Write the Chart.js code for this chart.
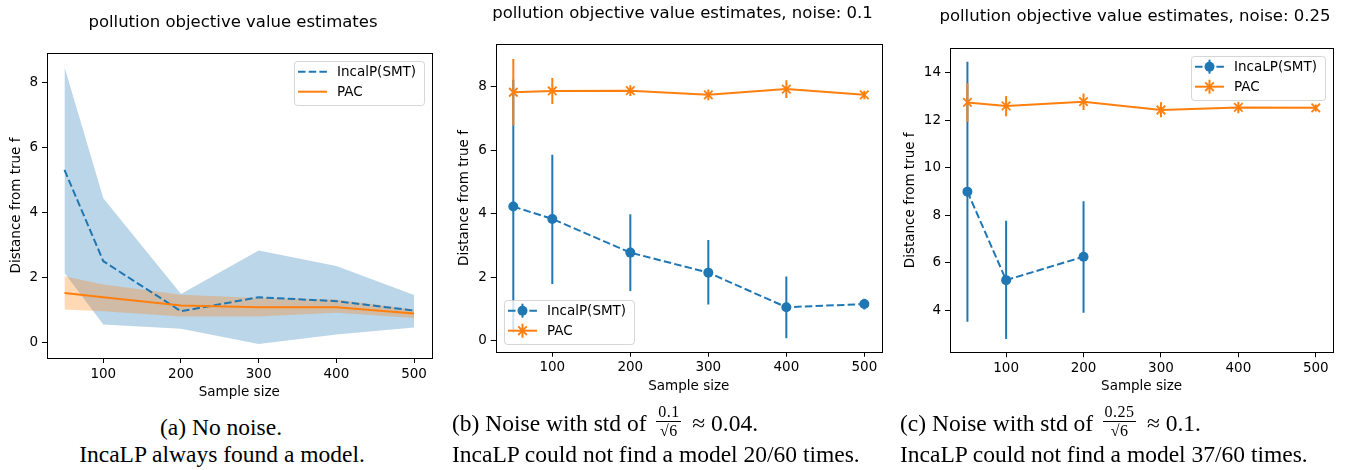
<!DOCTYPE html>
<html>
<head>
<meta charset="utf-8">
<script src="https://cdn.jsdelivr.net/npm/chart.js@4.4.1/dist/chart.umd.min.js"></script>
<style>
  html, body { margin: 0; padding: 0; background: #fff; }
  #page { position: relative; width: 1345px; height: 470px; overflow: hidden; }
  #page canvas { position: absolute; top: 0; }
  .cap { position: absolute; font-family: 'Liberation Serif', 'Times New Roman', serif; font-size: 23.5px; line-height: 1; white-space: nowrap; color: #000; }
  .frac { display: inline-block; position: relative; height: 0; margin: 0 5px 0 4px; }
  .frac .num, .frac .den { position: absolute; left: 0; right: 0; text-align: center; font-size: 16px; line-height: 1; letter-spacing: 0.5px; }
  .frac .num { bottom: 9px; border-bottom: 1px solid #000; padding-bottom: 1px; }
  .frac .den { top: -8px; }
</style>
</head>
<body>
<div id="page">
  <canvas id="chartA" width="466" height="410" style="left:0px"></canvas>
  <canvas id="chartB" width="469" height="410" style="left:448px"></canvas>
  <canvas id="chartC" width="482" height="410" style="left:894px"></canvas>

  <div class="cap" style="left:0px; width:442px; text-align:center; top:416px">(a) No noise.</div>
  <div class="cap" style="left:0px; width:444px; text-align:center; top:443px">IncaLP always found a model.</div>

  <div class="cap" style="left:452px; top:412px">(b) Noise with std of <span class="frac" style="width:25px"><span class="num">0.1</span><span class="den">√6</span></span> ≈ 0.04.</div>
  <div class="cap" style="left:452px; top:443px">IncaLP could not find a model 20/60 times.</div>

  <div class="cap" style="left:900px; top:412px">(c) Noise with std of <span class="frac" style="width:33px"><span class="num">0.25</span><span class="den">√6</span></span> ≈ 0.1.</div>
  <div class="cap" style="left:900px; top:443px">IncaLP could not find a model 37/60 times.</div>
</div>

<script>
// --- Farben (matplotlib default) ---
const C0 = '#1f77b4';
const C1 = '#ff7f0e';
const C0_BAND = 'rgba(31, 119, 180, 0.3)';
const C1_BAND = 'rgba(255, 127, 14, 0.3)';

// --- Daten ---
const sampleSizes = [50, 100, 200, 300, 400, 500];
const xTickValues = [100, 200, 300, 400, 500];
const yTicksAB = [0, 2, 4, 6, 8];
const yTicksC = [4, 6, 8, 10, 12, 14];

// (a) no noise: mean + band
const incaMeanA  = [5.30, 2.49, 0.95, 1.38, 1.26, 0.97];
const incaUpperA = [8.47, 4.43, 1.48, 2.82, 2.34, 1.45];
const incaLowerA = [2.13, 0.54, 0.41, -0.06, 0.23, 0.45];
const pacMeanA   = [1.51, 1.38, 1.13, 1.07, 1.07, 0.88];
const pacUpperA  = [2.03, 1.77, 1.46, 1.36, 1.31, 1.00];
const pacLowerA  = [1.00, 0.95, 0.79, 0.79, 0.90, 0.74];

// (b) noise 0.1: mean + error bars
const incaMeanB = [4.22, 3.83, 2.77, 2.14, 1.05, 1.15];
const incaLoB   = [0.25, 1.78, 1.56, 1.14, 0.07, 0.98];
const incaHiB   = [8.21, 5.85, 3.98, 3.17, 2.02, 1.32];
const pacMeanB  = [7.82, 7.86, 7.87, 7.74, 7.92, 7.74];
const pacLoB    = [6.77, 7.45, 7.70, 7.57, 7.64, 7.60];
const pacHiB    = [8.87, 8.27, 8.04, 7.91, 8.20, 7.87];

// (c) noise 0.25: IncaLP only found models for the first three sizes
const incaSizesC = [50, 100, 200];
const incaMeanC  = [8.99, 5.26, 6.25];
const incaLoC    = [3.51, 2.78, 3.89];
const incaHiC    = [14.46, 7.76, 8.59];
const pacMeanC   = [12.75, 12.60, 12.78, 12.43, 12.54, 12.52];
const pacLoC     = [11.94, 12.17, 12.43, 12.12, 12.29, 12.37];
const pacHiC     = [13.56, 13.02, 13.13, 12.76, 12.78, 12.66];

const titleA = 'pollution objective value estimates';
const titleB = 'pollution objective value estimates, noise: 0.1';
const titleC = 'pollution objective value estimates, noise: 0.25';
const xLabel = 'Sample size';
const yLabel = 'Distance from true f';
const incaNameAB = 'IncalP(SMT)';
const incaNameC = 'IncaLP(SMT)';
const pacName = 'PAC';

const DASH = [7.5, 3.2];
const FONT = 'DejaVu Sans';
Chart.defaults.font.family = FONT;
Chart.defaults.color = '#000';

// --- Hilfsfunktionen ---
function pts(xs, ys) {
    return xs.map((x, i) => ({ x: x, y: ys[i] }));
}

// one small two-point line per error bar
function errorBars(xs, lo, hi, color, order) {
    return xs.map((x, i) => ({
        data: [{ x: x, y: lo[i] }, { x: x, y: hi[i] }],
        borderColor: color,
        borderWidth: 2,
        pointRadius: 0,
        fill: false,
        order: order
    }));
}

// Rahmen (alle vier Spines)
const framePlugin = {
    id: 'frame',
    afterDatasetsDraw(chart) {
        const { ctx, chartArea: a } = chart;
        ctx.save();
        ctx.strokeStyle = '#000';
        ctx.lineWidth = 1;
        const l = Math.round(a.left) + 0.5, t = Math.round(a.top) + 0.5;
        const r = Math.round(a.right) + 0.5, b = Math.round(a.bottom) + 0.5;
        ctx.strokeRect(l, t, r - l, b - t);
        ctx.restore();
    }
};

// Legende im Plotbereich, matplotlib-Stil
const boxLegendPlugin = {
    id: 'boxLegend',
    afterDraw(chart, args, opts) {
        if (!opts.items) return;
        const { ctx, chartArea: a } = chart;
        ctx.save();
        ctx.font = '13.5px "' + FONT + '"';
        const textW = Math.max(...opts.items.map(it => ctx.measureText(it.label).width));
        const w = Math.round(43 + textW + 8), h = 44;
        const x0 = Math.round(opts.corner === 'ne' ? a.right - 8 - w : a.left + 8);
        const y0 = Math.round(opts.corner === 'ne' ? a.top + 8 : a.bottom - 8 - h);

        ctx.beginPath();
        if (ctx.roundRect) ctx.roundRect(x0 + 0.5, y0 + 0.5, w, h, 3);
        else ctx.rect(x0 + 0.5, y0 + 0.5, w, h);
        ctx.fillStyle = 'rgba(255,255,255,0.8)';
        ctx.fill();
        ctx.strokeStyle = 'rgba(204,204,204,0.8)';
        ctx.lineWidth = 1;
        ctx.stroke();

        opts.items.forEach((it, i) => {
            const cy = y0 + 10.7 + 20 * i;
            const lx0 = x0 + 4, lx1 = x0 + 33, mx = (lx0 + lx1) / 2;
            ctx.strokeStyle = it.color;
            ctx.fillStyle = it.color;
            ctx.lineWidth = 2;
            ctx.setLineDash(it.dash || []);
            ctx.beginPath();
            ctx.moveTo(lx0, cy);
            ctx.lineTo(lx1, cy);
            ctx.stroke();
            ctx.setLineDash([]);
            if (it.errorBar) {
                ctx.beginPath();
                ctx.moveTo(mx, cy - 7);
                ctx.lineTo(mx, cy + 7);
                ctx.stroke();
            }
            if (it.marker === 'circle') {
                ctx.beginPath();
                ctx.arc(mx, cy, 5, 0, Math.PI * 2);
                ctx.fill();
            } else if (it.marker === 'crossRot') {
                const d = 4.3;
                ctx.lineWidth = 1.8;
                ctx.beginPath();
                ctx.moveTo(mx - d, cy - d); ctx.lineTo(mx + d, cy + d);
                ctx.moveTo(mx - d, cy + d); ctx.lineTo(mx + d, cy - d);
                ctx.stroke();
            }
            ctx.fillStyle = '#000';
            ctx.textBaseline = 'middle';
            ctx.textAlign = 'left';
            ctx.fillText(it.label, x0 + 43, cy + 0.5);
        });
        ctx.restore();
    }
};

function makeOptions(cfg) {
    const tickFont = { family: FONT, size: 13.5 };
    return {
        responsive: false,
        animation: false,
        events: [],
        layout: { padding: 0 },
        plugins: {
            legend: { display: false },
            tooltip: { enabled: false },
            title: {
                display: true,
                text: cfg.title,
                color: '#000',
                font: { family: FONT, size: 16.5, weight: 'normal' },
                padding: { top: cfg.titleTop, bottom: cfg.titleBottom }
            },
            boxLegend: { corner: cfg.legendCorner, items: cfg.legendItems }
        },
        scales: {
            x: {
                type: 'linear',
                min: 27.5,
                max: 522.5,
                afterBuildTicks: s => { s.ticks = xTickValues.map(v => ({ value: v })); },
                afterFit: s => { s.height = cfg.xHeight; },
                ticks: { color: '#000', font: tickFont, padding: 3, maxRotation: 0, autoSkip: false },
                grid: { display: true, drawOnChartArea: false, drawTicks: true, tickLength: 5, color: '#000' },
                border: { display: false },
                title: { display: true, text: xLabel, color: '#000', font: tickFont, padding: { top: 0, bottom: cfg.xTitlePad } }
            },
            y: {
                type: 'linear',
                min: cfg.yMin,
                max: cfg.yMax,
                afterBuildTicks: s => { s.ticks = cfg.yTicks.map(v => ({ value: v })); },
                afterFit: s => { s.width = cfg.yWidth; },
                ticks: { color: '#000', font: tickFont, padding: 4 },
                grid: { display: true, drawOnChartArea: false, drawTicks: true, tickLength: 5, color: '#000' },
                border: { display: false },
                title: { display: true, text: yLabel, color: '#000', font: tickFont, padding: { top: 7.9, bottom: 0 } }
            },
            // leere rechte Achse als Abstandshalter, damit der Titel über die ganze Breite zentriert bleibt
            yR: {
                type: 'linear',
                position: 'right',
                min: 0,
                max: 1,
                afterFit: s => { s.width = cfg.rightGap; },
                ticks: { display: false },
                grid: { display: false },
                border: { display: false }
            }
        }
    };
}

const plugins = [framePlugin, boxLegendPlugin];

// --- (a) Bänder ---
new Chart(document.getElementById('chartA'), {
    type: 'line',
    data: {
        datasets: [
            { data: pts(sampleSizes, incaUpperA), borderColor: 'transparent', pointRadius: 0, fill: false, order: 10 },
            { data: pts(sampleSizes, incaLowerA), borderColor: 'transparent', pointRadius: 0, fill: '-1', backgroundColor: C0_BAND, order: 9 },
            { data: pts(sampleSizes, pacUpperA), borderColor: 'transparent', pointRadius: 0, fill: false, order: 8 },
            { data: pts(sampleSizes, pacLowerA), borderColor: 'transparent', pointRadius: 0, fill: '-1', backgroundColor: C1_BAND, order: 7 },
            { data: pts(sampleSizes, incaMeanA), borderColor: C0, borderWidth: 2, borderDash: DASH, pointRadius: 0, fill: false, order: 2 },
            { data: pts(sampleSizes, pacMeanA), borderColor: C1, borderWidth: 2, pointRadius: 0, fill: false, order: 1 }
        ]
    },
    options: makeOptions({
        title: titleA, titleTop: 13.2, titleBottom: 20.0,
        rightGap: 34.5, yWidth: 47, xHeight: 52, xTitlePad: 9.2,
        yMin: -0.49, yMax: 8.9, yTicks: yTicksAB,
        legendCorner: 'ne',
        legendItems: [
            { label: incaNameAB, color: C0, dash: DASH },
            { label: pacName, color: C1 }
        ]
    }),
    plugins: plugins
});

// --- (b) Fehlerbalken ---
new Chart(document.getElementById('chartB'), {
    type: 'line',
    data: {
        datasets: [
            ...errorBars(sampleSizes, incaLoB, incaHiB, C0, 4),
            { data: pts(sampleSizes, incaMeanB), borderColor: C0, borderWidth: 2, borderDash: DASH,
              pointRadius: 5, pointBackgroundColor: C0, pointBorderWidth: 0, fill: false, order: 3 },
            ...errorBars(sampleSizes, pacLoB, pacHiB, C1, 2),
            { data: pts(sampleSizes, pacMeanB), borderColor: C1, borderWidth: 2,
              pointStyle: 'crossRot', pointRadius: 6, pointBorderColor: C1, pointBorderWidth: 1.8, fill: false, order: 1 }
        ]
    },
    options: makeOptions({
        title: titleB, titleTop: 3.4, titleBottom: 21.1,
        rightGap: 35.1, yWidth: 47.75, xHeight: 58.3, xTitlePad: 15.2,
        yMin: -0.35, yMax: 9.33, yTicks: yTicksAB,
        legendCorner: 'sw',
        legendItems: [
            { label: incaNameAB, color: C0, dash: DASH, marker: 'circle', errorBar: true },
            { label: pacName, color: C1, marker: 'crossRot', errorBar: true }
        ]
    }),
    plugins: plugins
});

// --- (c) Fehlerbalken, IncaLP nur 3 Punkte ---
new Chart(document.getElementById('chartC'), {
    type: 'line',
    data: {
        datasets: [
            ...errorBars(incaSizesC, incaLoC, incaHiC, C0, 4),
            { data: pts(incaSizesC, incaMeanC), borderColor: C0, borderWidth: 2, borderDash: DASH,
              pointRadius: 5, pointBackgroundColor: C0, pointBorderWidth: 0, fill: false, order: 3 },
            ...errorBars(sampleSizes, pacLoC, pacHiC, C1, 2),
            { data: pts(sampleSizes, pacMeanC), borderColor: C1, borderWidth: 2,
              pointStyle: 'crossRot', pointRadius: 6, pointBorderColor: C1, pointBorderWidth: 1.8, fill: false, order: 1 }
        ]
    },
    options: makeOptions({
        title: titleC, titleTop: 6.8, titleBottom: 21.7,
        rightGap: 42.8, yWidth: 56, xHeight: 57.7, xTitlePad: 15.2,
        yMin: 2.22, yMax: 15.03, yTicks: yTicksC,
        legendCorner: 'ne',
        legendItems: [
            { label: incaNameC, color: C0, dash: DASH, marker: 'circle', errorBar: true },
            { label: pacName, color: C1, marker: 'crossRot', errorBar: true }
        ]
    }),
    plugins: plugins
});
</script>
</body>
</html>
